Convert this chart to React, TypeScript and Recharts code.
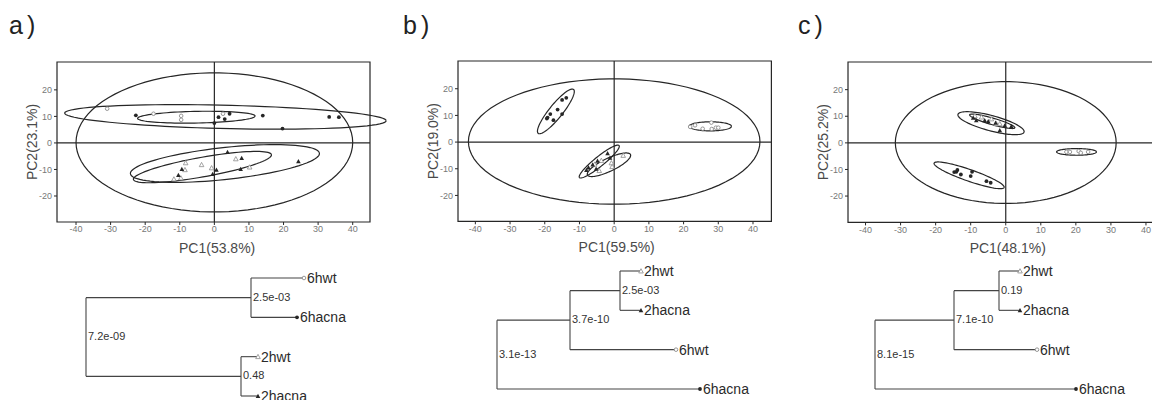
import React from 'react';
import { ScatterChart, Scatter, XAxis, YAxis, ReferenceLine, ReferenceArea } from 'recharts';

type Pt = { x: number; y: number };
type Ell = { cx: number; cy: number; rx: number; ry: number; angle: number };

const pts = (list: number[][]): Pt[] => list.map(([x, y]) => ({ x, y }));

// ---- panel a scores ----
const a6hwt = pts([[-31, 12.9], [-17.6, 11], [-9.6, 10.2], [-9.6, 8.7], [2.5, 11]]);
const a6hacna = pts([[-22.7, 10.4], [0, 7.5], [1.2, 9.7], [3, 9], [4.4, 11], [14, 10.3], [19.7, 5.4], [33.2, 9.8], [36, 9.7]]);
const a2hwt = pts([[-8.3, -7.5], [-3.7, -8.2], [-0.8, -9.4], [6.2, -6], [10.2, -9.1], [-8.5, -10.1], [-11.7, -13.6], [-9.7, -13.2]]);
const a2hacna = pts([[3.8, -3.4], [7.9, -5.7], [7.6, -9.8], [24.3, -6.9], [-9.4, -9.8], [-10.4, -12.1], [-0.5, -11.7], [0.6, -10.1]]);
const ellA: Ell[] = [
  { cx: 0, cy: 0.2, rx: 40, ry: 26.2, angle: 0 },
  { cx: 3.2, cy: 9.8, rx: 46.5, ry: 4.4, angle: -1.8 },
  { cx: -5.2, cy: 9.7, rx: 17, ry: 2.2, angle: 1.5 },
  { cx: 3.05, cy: -7.75, rx: 27.6, ry: 6, angle: 8.2 },
  { cx: -3.45, cy: -9.1, rx: 20.5, ry: 3.65, angle: 13.3 },
];

// ---- panel b scores ----
const b6hwt = pts([[21.9, 5.7], [23.3, 6.3], [25.5, 5], [28, 7.3], [28.1, 4.9], [29.3, 5.4], [30, 5.4]]);
const b6hacna = pts([[-19.4, 8.8], [-18.4, 10.5], [-17.5, 8.2], [-16.3, 12.2], [-15, 15.8], [-13.8, 16.6], [-15, 10.5], [-19.2, 9.2]]);
const b2hwt = pts([[-3.7, -6.9], [-4.3, -10.7], [-0.8, -7.8], [-0.6, -9.2], [2.6, -5], [-5.6, -8.3]]);
const b2hacna = pts([[-8, -10.5], [-7.4, -9.5], [-6.2, -8.4], [-4.8, -7], [-1.9, -4.2], [-1.2, -5.9], [-5.2, -10]]);
const ellB: Ell[] = [
  { cx: 0, cy: 0.2, rx: 42, ry: 23.5, angle: 0 },
  { cx: -16.8, cy: 11.5, rx: 9.7, ry: 2.1, angle: 59 },
  { cx: 27.7, cy: 5.9, rx: 6.1, ry: 1.7, angle: 0 },
  { cx: -4.3, cy: -7.3, rx: 8.3, ry: 1.6, angle: 47 },
  { cx: -1.5, cy: -8.5, rx: 7.3, ry: 2.3, angle: 33 },
];

// ---- panel c scores ----
const c6hwt = pts([[17.3, -3.4], [18.3, -3.4], [20.8, -3.1], [21.4, -3.75], [23.5, -3.4]]);
const c6hacna = pts([[-14.7, -11], [-13.8, -10.2], [-12.8, -11.9], [-10, -12.5], [-9.6, -10.9], [-5.5, -14.4], [-4.3, -15], [-14.1, -10.9]]);
const c2hwt = pts([[-8.8, 10.2], [-6.9, 9.7], [-4.1, 9], [-2.7, 7.2], [-1.7, 7.2]]);
const c2hacna = pts([[-9.3, 9.4], [-8.4, 8.5], [-6, 8.5], [-5, 8.1], [-2.9, 7.5], [-1.7, 4.7], [1.6, 6.2], [-0.3, 6.5]]);
const ellC: Ell[] = [
  { cx: 0, cy: 0.1, rx: 31.5, ry: 22.9, angle: 0 },
  { cx: -4.2, cy: 7.4, rx: 10, ry: 2.8, angle: -20 },
  { cx: -3.85, cy: 8.1, rx: 6.9, ry: 1.2, angle: -21 },
  { cx: -10.45, cy: -12.2, rx: 11, ry: 2.1, angle: -25 },
  { cx: 20.2, cy: -3.4, rx: 5.7, ry: 1.25, angle: 0 },
];

const xTicks = [-40, -30, -20, -10, 0, 10, 20, 30, 40];
const yTicks = [-20, -10, 0, 10, 20];

// ---- dendrograms: leaves top to bottom, branch lengths from the root ----
const treeALeaves = ['6hwt', '6hacna', '2hwt', '2hacna'];
const treeALeafDist = [218, 211, 172, 172];
const treeANodes = [
  { kids: ['6hwt', '6hacna'], dist: 165, p: '2.5e-03' },
  { kids: ['2hwt', '2hacna'], dist: 155, p: '0.48' },
  { kids: ['n0', 'n1'], dist: 0, p: '7.2e-09' },
];
const treeBLeaves = ['2hwt', '2hacna', '6hwt', '6hacna'];
const treeBLeafDist = [144, 144, 179, 203];
const treeBNodes = [
  { kids: ['2hwt', '2hacna'], dist: 123, p: '2.5e-03' },
  { kids: ['n0', '6hwt'], dist: 73, p: '3.7e-10' },
  { kids: ['n1', '6hacna'], dist: 0, p: '3.1e-13' },
];
const treeCLeaves = ['2hwt', '2hacna', '6hwt', '6hacna'];
const treeCLeafDist = [145, 145, 162, 201];
const treeCNodes = [
  { kids: ['2hwt', '2hacna'], dist: 124, p: '0.19' },
  { kids: ['n0', '6hwt'], dist: 79, p: '7.1e-10' },
  { kids: ['n1', '6hacna'], dist: 0, p: '8.1e-15' },
];

const INK = '#262626';
const GREY = '#8c8c8c';
const FONT = '"Liberation Sans", Arial, sans-serif';

const kindOf: Record<string, string> = {
  '6hwt': 'openCircle',
  '6hacna': 'filledCircle',
  '2hwt': 'openTriangle',
  '2hacna': 'filledTriangle',
};

function Marker({ cx, cy, kind }: { cx: number; cy: number; kind: string }) {
  if (kind === 'openCircle') return <circle cx={cx} cy={cy} r={1.8} fill="#fff" stroke={GREY} strokeWidth={0.9} />;
  if (kind === 'filledCircle') return <circle cx={cx} cy={cy} r={1.9} fill={INK} />;
  const s = 2.3;
  const d = `M${cx},${cy - s}L${cx + s},${cy + s * 0.85}L${cx - s},${cy + s * 0.85}Z`;
  if (kind === 'openTriangle') return <path d={d} fill="#fff" stroke={GREY} strokeWidth={0.8} />;
  return <path d={d} fill={INK} />;
}

function ellipsePoints(e: Ell): Pt[] {
  const r = (e.angle * Math.PI) / 180;
  const out: Pt[] = [];
  for (let i = 0; i <= 90; i++) {
    const t = (i / 90) * 2 * Math.PI;
    const u = e.rx * Math.cos(t);
    const v = e.ry * Math.sin(t);
    out.push({ x: e.cx + u * Math.cos(r) - v * Math.sin(r), y: e.cy + u * Math.sin(r) + v * Math.cos(r) });
  }
  return out;
}

const panels = [
  {
    tag: 'a)', tagLeft: 9, xLabel: 'PC1(53.8%)', yLabel: 'PC2(23.1%)',
    left: 7, top: 52, plotW: 330.3, plotH: 160, xDomain: [-45.5, 50], frameX: [-45.5, 45], yDomain: [-29.8, 30.5], labelDx: -5,
    groups: { '6hwt': a6hwt, '6hacna': a6hacna, '2hwt': a2hwt, '2hacna': a2hacna }, ellipses: ellA,
  },
  {
    tag: 'b)', tagLeft: 403, xLabel: 'PC1(59.5%)', yLabel: 'PC2(19.0%)',
    left: 408.3, top: 50.7, plotW: 313.4, plotH: 160.3, xDomain: [-45, 45.3], frameX: [-45, 45.3], yDomain: [-29.7, 30.4], labelDx: 2,
    groups: { '6hwt': b6hwt, '6hacna': b6hacna, '2hwt': b2hwt, '2hacna': b2hacna }, ellipses: ellB,
  },
  {
    tag: 'c)', tagLeft: 798, xLabel: 'PC1(48.1%)', yLabel: 'PC2(25.2%)',
    left: 797.7, top: 52.3, plotW: 315.5, plotH: 160.4, xDomain: [-45, 45], frameX: [-45, 45], yDomain: [-29.9, 30.4], labelDx: 2,
    groups: { '6hwt': c6hwt, '6hacna': c6hacna, '2hwt': c2hwt, '2hacna': c2hacna }, ellipses: ellC,
  },
];

const trees = [
  { leaves: treeALeaves, dist: treeALeafDist, nodes: treeANodes, left: 76, top: 268.3 },
  { leaves: treeBLeaves, dist: treeBLeafDist, nodes: treeBNodes, left: 487.3, top: 261 },
  { leaves: treeCLeaves, dist: treeCLeafDist, nodes: treeCNodes, left: 865, top: 261 },
];

function PcaPanel({ p }: { p: any }) {
  const [x0, x1] = p.frameX;
  const [y0, y1] = p.yDomain;
  return (
    <div style={{ position: 'absolute', left: p.left, top: p.top }}>
      <ScatterChart width={50 + p.plotW + 10} height={10 + p.plotH + 40} margin={{ top: 10, right: 10, left: 0, bottom: 0 }}>
        <XAxis
          type="number"
          dataKey="x"
          domain={p.xDomain}
          ticks={xTicks}
          interval={0}
          height={40}
          tickSize={3}
          tickMargin={1}
          axisLine={false}
          tickLine={{ stroke: INK }}
          tick={{ fontSize: 9, fill: '#777', fontFamily: FONT }}
          label={{ value: p.xLabel, position: 'insideBottom', offset: 9, dx: p.labelDx, style: { fontSize: 14, fill: '#4a4a4a', fontFamily: FONT } }}
        />
        <YAxis
          type="number"
          dataKey="y"
          domain={p.yDomain}
          ticks={yTicks}
          interval={0}
          width={50}
          tickSize={3}
          tickMargin={2}
          axisLine={false}
          tickLine={{ stroke: INK }}
          tick={{ fontSize: 9, fill: '#777', fontFamily: FONT }}
          label={{ value: p.yLabel, angle: -90, position: 'insideLeft', offset: 25, style: { textAnchor: 'middle', fontSize: 14, fill: '#4a4a4a', fontFamily: FONT } }}
        />
        <ReferenceArea x1={x0} x2={x1} y1={y0} y2={y1} fill="none" stroke={INK} strokeWidth={1.2} ifOverflow="visible" />
        <ReferenceLine segment={[{ x: 0, y: y0 }, { x: 0, y: y1 }]} stroke={INK} strokeWidth={1.2} ifOverflow="visible" />
        <ReferenceLine segment={[{ x: x0, y: 0 }, { x: x1, y: 0 }]} stroke={INK} strokeWidth={1.2} ifOverflow="visible" />
        {p.ellipses.map((e: Ell, i: number) => (
          <Scatter
            key={`e${i}`}
            data={ellipsePoints(e)}
            line={{ stroke: INK, strokeWidth: 1.2 }}
            lineJointType="linear"
            shape={() => <g />}
            legendType="none"
            isAnimationActive={false}
          />
        ))}
        {Object.keys(p.groups).map((g) => (
          <Scatter
            key={g}
            name={g}
            data={p.groups[g]}
            shape={(s: any) => <Marker cx={s.cx} cy={s.cy} kind={kindOf[g]} />}
            isAnimationActive={false}
          />
        ))}
      </ScatterChart>
    </div>
  );
}

function layoutTree(leaves: string[], dist: number[], nodes: { kids: string[]; dist: number; p: string }[]) {
  const pos: Record<string, Pt> = {};
  leaves.forEach((n, i) => (pos[n] = { x: dist[i], y: i }));
  const segs: Pt[][] = [];
  const nodePts: any[] = [];
  nodes.forEach((nd, i) => {
    const ys = nd.kids.map((k) => pos[k].y);
    const y = ys.reduce((s, v) => s + v, 0) / ys.length;
    pos[`n${i}`] = { x: nd.dist, y };
    segs.push([{ x: nd.dist, y: ys[0] }, { x: nd.dist, y: ys[ys.length - 1] }]);
    nd.kids.forEach((k) => segs.push([{ x: nd.dist, y: pos[k].y }, { x: pos[k].x, y: pos[k].y }]));
    nodePts.push({ x: nd.dist, y, p: nd.p });
  });
  const leafPts = leaves.map((n, i) => ({ x: dist[i], y: i, name: n }));
  return { segs, nodePts, leafPts };
}

function Dendrogram({ t }: { t: any }) {
  const { segs, nodePts, leafPts } = layoutTree(t.leaves, t.dist, t.nodes);
  return (
    <div style={{ position: 'absolute', left: t.left, top: t.top }}>
      <ScatterChart width={350} height={138} margin={{ top: 10, right: 110, left: 10, bottom: 10 }}>
        <XAxis type="number" dataKey="x" domain={[0, 230]} hide />
        <YAxis type="number" dataKey="y" domain={[0, 3]} reversed hide />
        {segs.map((s, i) => (
          <ReferenceLine key={i} segment={s} stroke="#444" strokeWidth={1.1} ifOverflow="visible" />
        ))}
        <Scatter
          data={nodePts}
          isAnimationActive={false}
          shape={(s: any) => (
            <text x={s.cx + 2} y={s.cy - 1} dominantBaseline="central" fontSize={11} fill="#333" fontFamily={FONT}>
              {s.payload.p}
            </text>
          )}
        />
        <Scatter
          data={leafPts}
          isAnimationActive={false}
          shape={(s: any) => (
            <g>
              <Marker cx={s.cx} cy={s.cy} kind={kindOf[s.payload.name]} />
              <text x={s.cx + 3} y={s.cy} dominantBaseline="central" fontSize={14} fill="#2a2a2a" fontFamily={FONT}>
                {s.payload.name}
              </text>
            </g>
          )}
        />
      </ScatterChart>
    </div>
  );
}

export default function App() {
  return (
    <div style={{ position: 'fixed', left: 0, top: 0, width: 1152, height: 400, overflow: 'hidden', background: '#fff', fontFamily: FONT }}>
      {panels.map((p) => (
        <div key={p.tag} style={{ position: 'absolute', left: p.tagLeft, top: 12.5, fontSize: 25, lineHeight: 1, letterSpacing: 4, color: '#222' }}>
          {p.tag}
        </div>
      ))}
      {panels.map((p) => (
        <PcaPanel key={p.tag} p={p} />
      ))}
      {trees.map((t, i) => (
        <Dendrogram key={i} t={t} />
      ))}
    </div>
  );
}
